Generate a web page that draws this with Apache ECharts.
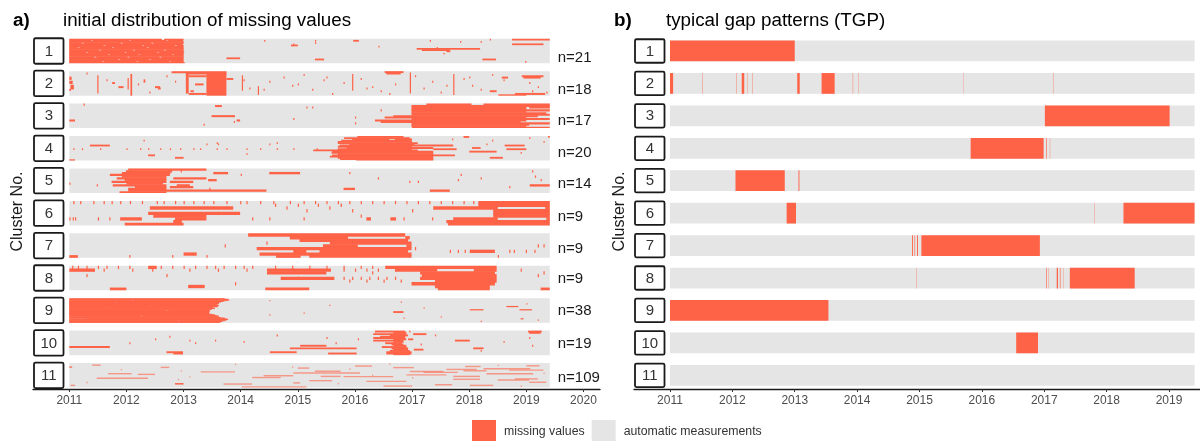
<!DOCTYPE html>
<html>
<head>
<meta charset="utf-8">
<script src="https://cdn.jsdelivr.net/npm/echarts@6/dist/echarts.min.js"></script>
<style>
  html, body { margin: 0; padding: 0; background: #ffffff; }
  #chart { width: 1200px; height: 441px; }
</style>
</head>
<body>
<div id="chart"></div>
<script>
// ---- data -------------------------------------------------------------
const clusters = [1, 2, 3, 4, 5, 6, 7, 8, 9, 10, 11];
const stationCounts = [21, 18, 17, 20, 14, 9, 9, 9, 38, 19, 109];
const yearTicksA = [2011, 2012, 2013, 2014, 2015, 2016, 2017, 2018, 2019, 2020];
const yearTicksB = [2011, 2012, 2013, 2014, 2015, 2016, 2017, 2018, 2019];
const recordStart = 2011.0;
const recordEnd = 2019.41;
const legendNames = ['missing values', 'automatic measurements'];

// gaps per cluster: [station row, gap start (decimal year), gap end, rows spanned (optional)]
const gaps1 = [
  [0, 2011.0, 2012.62], [0, 2012.66, 2013.0],
  [1, 2011.0, 2011.38], [1, 2011.41, 2012.05], [1, 2012.08, 2012.7], [1, 2012.73, 2012.99],
  [2, 2011.0, 2013.0],
  [3, 2011.0, 2011.22], [3, 2011.25, 2011.9], [3, 2011.93, 2012.44], [3, 2012.47, 2013.0],
  [4, 2011.0, 2012.98],
  [5, 2011.0, 2011.6], [5, 2011.63, 2012.28], [5, 2012.31, 2012.85], [5, 2012.88, 2013.0],
  [6, 2011.0, 2013.0],
  [7, 2011.0, 2011.15], [7, 2011.18, 2011.75], [7, 2011.78, 2012.36], [7, 2012.39, 2013.0],
  [8, 2011.0, 2013.0],
  [9, 2011.0, 2011.52], [9, 2011.55, 2012.12], [9, 2012.15, 2012.66], [9, 2012.69, 2013.0],
  [10, 2011.0, 2013.0],
  [11, 2011.0, 2011.3], [11, 2011.33, 2011.97], [11, 2012.0, 2012.54], [11, 2012.57, 2013.01],
  [12, 2011.0, 2013.0],
  [13, 2011.0, 2011.68], [13, 2011.71, 2012.21], [13, 2012.24, 2012.8], [13, 2012.83, 2013.0],
  [14, 2011.0, 2013.0],
  [15, 2011.0, 2011.44], [15, 2011.47, 2012.02], [15, 2012.05, 2012.58], [15, 2012.61, 2013.0],
  [16, 2011.0, 2013.0],
  [17, 2011.0, 2011.86], [17, 2011.89, 2012.4], [17, 2012.43, 2013.0],
  [18, 2011.0, 2013.0],
  [19, 2011.0, 2011.58], [19, 2011.61, 2012.18], [19, 2012.21, 2012.75], [19, 2012.78, 2013.0],
  [20, 2011.0, 2013.02],
  [0, 2018.75, 2019.41], [1, 2015.97, 2016.07], [1, 2014.41, 2014.43], [2, 2018.2, 2018.22],
  [4, 2018.75, 2019.3], [5, 2014.88, 2015.0], [8, 2017.08, 2018.19], [9, 2017.17, 2017.66],
  [10, 2017.6, 2017.67], [16, 2013.75, 2013.99], [17, 2015.3, 2015.46], [17, 2018.23, 2018.47],
  [19, 2018.98, 2019.0], [3, 2015.3, 2015.32], [6, 2016.41, 2016.43], [1, 2017.31, 2017.33],
  [2, 2017.84, 2017.86], [0, 2018.36, 2018.38], [4, 2014.92, 2014.94], [7, 2017.43, 2017.45],
  [12, 2017.55, 2017.57], [1, 2015.3, 2015.32]
];

const gaps2 = [
  [0, 2012.79, 2013.75], [1, 2013.04, 2013.75],
  [2, 2013.04, 2013.09, 14], [2, 2013.40, 2013.75, 16],
  [3, 2013.09, 2013.40], [16, 2013.09, 2013.40], [5, 2013.75, 2013.87],
  [0, 2016.52, 2016.85], [1, 2016.55, 2016.8],
  [2, 2012.07, 2012.1, 16], [5, 2012.02, 2012.04, 8], [3, 2011.49, 2011.505, 13],
  [4, 2011.0, 2011.04, 2], [7, 2011.0, 2011.06, 2], [10, 2011.02, 2011.08, 3], [13, 2011.0, 2011.03],
  [11, 2012.5, 2012.59], [11, 2011.86, 2011.95],
  [4, 2018.57, 2018.68], [3, 2018.92, 2019.3], [4, 2018.95, 2019.25], [16, 2018.8, 2019.33],
  [14, 2018.36, 2018.48], [17, 2018.51, 2019.0],
  [2, 2017.72, 2017.726, 15], [1, 2016.96, 2016.965, 15], [3, 2014.02, 2014.026, 11],
  [2, 2015.95, 2015.955, 12], [11, 2014.3, 2014.32, 6], [6, 2012.3, 2012.33, 2],
  [12, 2012.55, 2012.6], [8, 2011.75, 2011.8], [14, 2013.12, 2013.18], [9, 2013.2, 2013.35],
  [1, 2011.3, 2011.31], [6, 2011.65, 2011.66], [9, 2012.2, 2012.21], [15, 2012.4, 2012.41],
  [3, 2012.7, 2012.71], [12, 2014.15, 2014.16], [7, 2014.5, 2014.51], [4, 2014.75, 2014.76],
  [10, 2014.9, 2014.91], [2, 2015.1, 2015.11], [13, 2015.25, 2015.26], [6, 2015.45, 2015.46],
  [16, 2015.6, 2015.61], [8, 2015.8, 2015.81], [5, 2016.1, 2016.11], [11, 2016.3, 2016.31],
  [14, 2016.45, 2016.46], [9, 2016.7, 2016.71], [3, 2017.05, 2017.06], [12, 2017.2, 2017.21],
  [7, 2017.35, 2017.36], [15, 2017.5, 2017.51], [5, 2017.9, 2017.91], [10, 2018.05, 2018.06],
  [13, 2018.2, 2018.21], [2, 2018.4, 2018.41], [6, 2018.6, 2018.61], [8, 2019.05, 2019.06],
  [11, 2019.2, 2019.21], [15, 2019.35, 2019.36], [6, 2014.05, 2014.06], [13, 2014.4, 2014.41],
  [9, 2015.0, 2015.01], [4, 2015.5, 2015.51], [12, 2016.2, 2016.21], [16, 2016.6, 2016.61],
  [10, 2017.6, 2017.61], [4, 2018.0, 2018.01], [14, 2019.1, 2019.11], [7, 2012.85, 2012.86]
];

const gaps3 = [
  [0, 2017.25, 2018.04], [0, 2018.25, 2019.41],
  [1, 2016.99, 2019.41],
  [2, 2016.99, 2019.0], [2, 2019.05, 2019.41],
  [3, 2016.99, 2019.0],
  [4, 2016.99, 2019.41],
  [5, 2016.99, 2019.0],
  [6, 2016.99, 2019.35],
  [7, 2016.99, 2019.41],
  [8, 2016.67, 2019.2],
  [9, 2016.52, 2019.0],
  [10, 2016.99, 2019.41],
  [11, 2016.35, 2019.0],
  [12, 2016.45, 2018.9],
  [13, 2016.99, 2019.41],
  [14, 2016.99, 2019.05],
  [15, 2016.99, 2019.0],
  [16, 2017.0, 2019.41],
  [1, 2013.55, 2013.67], [8, 2013.49, 2013.9], [11, 2013.93, 2013.99], [11, 2011.0, 2011.1],
  [0, 2011.25, 2011.26], [2, 2015.15, 2015.17], [2, 2015.25, 2015.27], [9, 2016.0, 2016.01],
  [13, 2016.0, 2016.01], [14, 2013.35, 2013.36], [10, 2014.92, 2014.93], [4, 2016.45, 2016.46],
  [12, 2013.88, 2013.89]
];

const gaps4 = [
  [0, 2016.04, 2016.85], [0, 2017.9, 2018.0],
  [1, 2015.81, 2016.96],
  [2, 2015.95, 2016.6], [2, 2016.7, 2017.0],
  [3, 2015.76, 2016.99],
  [4, 2015.7, 2017.0],
  [5, 2015.7, 2017.1],
  [6, 2015.9, 2017.04],
  [7, 2015.73, 2017.72],
  [8, 2015.7, 2017.0],
  [9, 2015.85, 2017.37],
  [10, 2015.7, 2017.0], [10, 2017.37, 2017.78],
  [11, 2015.27, 2017.1],
  [12, 2015.6, 2017.37],
  [13, 2015.59, 2017.37],
  [14, 2015.7, 2017.37],
  [15, 2015.6, 2017.75],
  [16, 2015.56, 2017.37],
  [17, 2015.7, 2017.37],
  [18, 2015.74, 2017.37],
  [19, 2016.02, 2017.37],
  [7, 2011.36, 2011.71], [17, 2012.85, 2013.0], [19, 2011.0, 2011.1], [15, 2012.38, 2012.5],
  [12, 2018.0, 2018.48], [10, 2018.65, 2019.0], [7, 2018.62, 2018.97], [17, 2018.36, 2018.59],
  [9, 2018.05, 2018.2], [4, 2019.3, 2019.31], [3, 2018.4, 2018.42], [1, 2019.05, 2019.07],
  [0, 2019.38, 2019.41],
  [10, 2011.07, 2011.08], [10, 2011.22, 2011.23], [10, 2011.54, 2011.55], [10, 2012.0, 2012.01],
  [10, 2012.24, 2012.25], [10, 2012.38, 2012.39], [10, 2012.59, 2012.6], [10, 2012.76, 2012.77],
  [10, 2012.94, 2012.95], [10, 2013.17, 2013.18], [10, 2013.29, 2013.3], [10, 2013.58, 2013.59],
  [10, 2013.75, 2013.76], [10, 2014.1, 2014.11], [10, 2014.34, 2014.35], [10, 2014.63, 2014.64],
  [10, 2014.92, 2014.93], [10, 2015.33, 2015.34], [6, 2013.4, 2013.41], [6, 2013.6, 2013.61],
  [6, 2014.5, 2014.51], [5, 2014.63, 2014.64], [5, 2013.58, 2013.59], [3, 2012.3, 2012.31],
  [14, 2014.1, 2014.11], [2, 2017.7, 2017.71], [13, 2018.9, 2018.91], [6, 2018.3, 2018.31]
];

const gaps5 = [
  [0, 2012.03, 2013.4],
  [1, 2011.99, 2012.8],
  [2, 2011.92, 2012.77], [2, 2013.52, 2013.78], [2, 2014.5, 2015.04],
  [3, 2011.71, 2012.76],
  [4, 2011.92, 2012.7],
  [5, 2011.83, 2012.7], [5, 2012.82, 2013.4],
  [6, 2011.97, 2012.7], [6, 2013.43, 2013.58],
  [7, 2011.74, 2012.7], [7, 2012.76, 2013.17],
  [8, 2012.0, 2012.64],
  [9, 2011.76, 2012.7], [9, 2012.88, 2013.11], [9, 2019.06, 2019.41],
  [10, 2012.15, 2012.7], [10, 2012.76, 2013.17],
  [11, 2012.03, 2012.7], [11, 2015.8, 2016.0],
  [12, 2012.03, 2014.45], [12, 2017.31, 2017.66],
  [13, 2011.88, 2012.7],
  [8, 2011.0, 2011.02], [9, 2011.48, 2011.5], [1, 2019.1, 2019.12], [5, 2018.2, 2018.22],
  [6, 2017.8, 2017.81], [2, 2015.9, 2015.91], [7, 2016.95, 2016.96], [3, 2017.85, 2017.86],
  [4, 2019.15, 2019.17], [10, 2018.7, 2018.71], [6, 2019.25, 2019.27], [11, 2013.45, 2013.47],
  [3, 2014.0, 2014.01], [1, 2012.95, 2012.97], [7, 2017.1, 2017.11], [5, 2016.4, 2016.41]
];

const gaps6 = [
  [0, 2018.16, 2019.41],
  [1, 2018.16, 2019.41],
  [2, 2012.41, 2013.87], [2, 2017.37, 2018.5], [2, 2019.33, 2019.41],
  [3, 2018.42, 2019.41],
  [4, 2012.38, 2013.99], [4, 2018.42, 2019.41],
  [5, 2012.47, 2013.4], [5, 2018.42, 2019.41],
  [6, 2011.89, 2012.27], [6, 2012.85, 2013.4], [6, 2017.72, 2018.5], [6, 2019.35, 2019.41],
  [7, 2012.82, 2012.97], [7, 2017.6, 2019.41],
  [8, 2011.97, 2013.0], [8, 2017.63, 2019.41],
  [0, 2011.07, 2011.08], [0, 2011.19, 2011.2], [0, 2011.42, 2011.43], [0, 2011.6, 2011.61],
  [0, 2011.74, 2011.75], [0, 2011.89, 2011.9], [0, 2012.06, 2012.07], [0, 2012.27, 2012.28],
  [0, 2012.53, 2012.54], [0, 2012.65, 2012.66], [0, 2012.85, 2012.86], [0, 2013.0, 2013.01],
  [0, 2013.17, 2013.18], [0, 2013.35, 2013.36], [0, 2013.52, 2013.53], [0, 2013.75, 2013.76],
  [0, 2013.99, 2014.0], [0, 2014.1, 2014.11], [0, 2014.34, 2014.35], [0, 2014.57, 2014.58],
  [0, 2014.86, 2014.87], [0, 2015.1, 2015.11], [0, 2015.3, 2015.31], [0, 2015.5, 2015.51],
  [0, 2015.7, 2015.71], [0, 2015.9, 2015.91], [0, 2016.1, 2016.11], [0, 2016.3, 2016.31],
  [0, 2016.5, 2016.51], [0, 2016.7, 2016.71], [0, 2016.9, 2016.91], [0, 2017.1, 2017.11],
  [0, 2017.3, 2017.31], [0, 2017.5, 2017.51], [0, 2017.7, 2017.71], [0, 2017.9, 2017.91],
  [0, 2018.07, 2018.08],
  [1, 2014.6, 2014.61], [2, 2014.8, 2014.81], [1, 2015.0, 2015.01], [3, 2015.15, 2015.16],
  [1, 2015.35, 2015.36], [2, 2015.55, 2015.56], [1, 2015.75, 2015.76], [3, 2015.95, 2015.96],
  [6, 2011.0, 2011.02], [6, 2011.06, 2011.08], [6, 2011.1, 2011.12], [6, 2011.5, 2011.52],
  [6, 2011.7, 2011.72], [6, 2014.2, 2014.22], [6, 2014.5, 2014.52], [6, 2015.1, 2015.12],
  [6, 2016.2, 2016.28], [6, 2016.62, 2016.72], [6, 2016.85, 2016.87], [6, 2017.35, 2017.37],
  [4, 2013.6, 2013.62], [5, 2016.1, 2016.11], [3, 2017.0, 2017.01]
];

const gaps7 = [
  [0, 2014.13, 2016.88],
  [1, 2014.86, 2015.88], [1, 2016.88, 2016.96],
  [2, 2015.03, 2016.93],
  [3, 2015.56, 2016.99],
  [4, 2015.44, 2016.05], [4, 2016.9, 2016.99],
  [5, 2014.28, 2016.99],
  [6, 2014.92, 2015.15], [6, 2015.38, 2016.93],
  [7, 2014.33, 2016.99],
  [8, 2014.62, 2015.05], [8, 2015.2, 2016.99],
  [6, 2018.01, 2018.45], [7, 2013.0, 2013.23], [8, 2011.0, 2011.15], [4, 2013.72, 2013.73],
  [4, 2019.2, 2019.21], [5, 2015.1, 2015.11], [6, 2017.66, 2017.67], [6, 2017.8, 2017.81],
  [6, 2017.92, 2017.93], [6, 2018.7, 2018.71], [6, 2018.78, 2018.79], [6, 2018.99, 2019.0],
  [6, 2019.14, 2019.15], [8, 2012.05, 2012.06], [8, 2012.8, 2012.82], [3, 2014.45, 2014.46],
  [5, 2017.05, 2017.06], [4, 2019.3, 2019.31], [8, 2013.4, 2013.42], [8, 2018.5, 2018.51]
];

const gaps8 = [
  [0, 2016.53, 2018.48],
  [1, 2016.7, 2017.44], [1, 2018.08, 2018.48],
  [2, 2017.14, 2018.45],
  [3, 2017.17, 2018.48],
  [4, 2017.14, 2018.48],
  [5, 2017.4, 2018.48],
  [6, 2016.99, 2018.45],
  [7, 2017.4, 2018.36],
  [8, 2017.45, 2018.36],
  [1, 2014.46, 2015.58], [2, 2014.46, 2015.5], [4, 2014.7, 2015.64], [8, 2014.43, 2015.2],
  [1, 2011.0, 2011.45], [8, 2011.71, 2012.0], [7, 2013.08, 2013.37], [0, 2012.38, 2012.53],
  [8, 2019.25, 2019.41], [3, 2019.2, 2019.22],
  [0, 2011.05, 2011.06], [0, 2011.15, 2011.16], [0, 2011.3, 2011.31], [0, 2011.5, 2011.51],
  [0, 2011.65, 2011.66], [0, 2011.85, 2011.86], [0, 2012.05, 2012.06], [0, 2012.6, 2012.61],
  [0, 2012.8, 2012.81], [0, 2013.0, 2013.01], [0, 2013.2, 2013.21], [0, 2013.4, 2013.41],
  [0, 2013.55, 2013.56], [0, 2013.7, 2013.71], [0, 2013.9, 2013.91], [0, 2014.05, 2014.06],
  [0, 2014.2, 2014.21], [0, 2014.6, 2014.61], [0, 2014.9, 2014.91], [0, 2015.2, 2015.21],
  [0, 2015.5, 2015.51], [0, 2015.8, 2015.81], [0, 2016.1, 2016.11], [0, 2016.3, 2016.31],
  [1, 2011.6, 2011.61], [1, 2012.1, 2012.11], [1, 2012.45, 2012.46], [1, 2013.1, 2013.11],
  [1, 2013.6, 2013.61], [1, 2014.1, 2014.11], [1, 2015.8, 2015.81], [1, 2016.0, 2016.01],
  [1, 2016.2, 2016.21], [1, 2016.4, 2016.41],
  [4, 2015.0, 2015.01], [4, 2015.8, 2015.81], [4, 2015.95, 2015.96], [4, 2016.1, 2016.11],
  [4, 2016.25, 2016.26], [4, 2016.4, 2016.41], [4, 2016.55, 2016.56], [4, 2016.7, 2016.71],
  [5, 2015.9, 2015.91], [5, 2016.2, 2016.21], [5, 2016.5, 2016.51], [5, 2016.8, 2016.81],
  [3, 2011.3, 2011.31], [3, 2012.7, 2012.71], [6, 2013.9, 2013.91], [2, 2016.3, 2016.31],
  [1, 2018.9, 2018.91], [2, 2019.3, 2019.31]
];

const gaps9 = [
  [0, 2011.0, 2013.72], [1, 2011.0, 2013.78], [2, 2011.0, 2012.1], [2, 2012.13, 2013.8],
  [3, 2011.0, 2013.75], [4, 2011.0, 2013.7], [5, 2011.0, 2013.65], [6, 2011.0, 2011.8],
  [6, 2011.83, 2013.62], [7, 2011.0, 2013.62], [8, 2011.0, 2013.6], [9, 2011.0, 2013.58],
  [10, 2011.0, 2012.4], [10, 2012.43, 2013.62], [11, 2011.0, 2013.55], [12, 2011.0, 2013.6],
  [13, 2011.0, 2013.52], [14, 2011.0, 2011.6], [14, 2011.63, 2013.5], [15, 2011.0, 2013.55],
  [16, 2011.0, 2013.5], [17, 2011.0, 2013.47], [18, 2011.0, 2012.7], [18, 2012.73, 2013.45],
  [19, 2011.0, 2013.44], [20, 2011.0, 2013.46], [21, 2011.0, 2013.45], [22, 2011.0, 2011.95],
  [22, 2011.98, 2013.43], [23, 2011.0, 2013.45], [24, 2011.0, 2013.5], [25, 2011.0, 2013.55],
  [26, 2011.0, 2012.25], [26, 2012.28, 2013.58], [27, 2011.0, 2013.62], [28, 2011.0, 2013.6],
  [29, 2011.0, 2013.65], [30, 2011.0, 2013.72], [31, 2011.3, 2013.75], [32, 2011.0, 2013.78],
  [33, 2011.0, 2012.9], [33, 2012.93, 2013.75], [34, 2011.0, 2013.72], [35, 2011.0, 2013.68],
  [36, 2011.0, 2013.65], [37, 2011.0, 2013.62],
  [20, 2016.67, 2016.85, 2], [17, 2018.01, 2018.25], [12, 2018.65, 2018.86], [17, 2018.88, 2019.1],
  [3, 2014.5, 2014.52], [10, 2015.55, 2015.57], [25, 2014.5, 2014.52], [30, 2016.85, 2016.87],
  [33, 2019.2, 2019.22], [35, 2018.2, 2018.22], [5, 2016.8, 2016.82], [14, 2017.2, 2017.22],
  [28, 2017.5, 2017.52], [8, 2019.0, 2019.02], [22, 2015.1, 2015.12], [31, 2018.9, 2018.95]
];

const gaps10 = [
  [0, 2016.35, 2016.88], [0, 2019.03, 2019.27],
  [1, 2016.67, 2016.9], [1, 2019.05, 2019.25],
  [2, 2016.32, 2016.9], [2, 2017.02, 2017.25],
  [3, 2016.61, 2016.93],
  [4, 2016.44, 2016.88],
  [5, 2016.32, 2016.88],
  [6, 2016.67, 2016.9], [6, 2016.93, 2017.02],
  [7, 2016.32, 2016.85], [7, 2017.75, 2018.01],
  [8, 2016.67, 2016.85],
  [9, 2016.53, 2016.82],
  [10, 2016.64, 2016.85],
  [11, 2016.67, 2016.9], [11, 2015.04, 2015.5],
  [12, 2016.47, 2016.9], [12, 2011.0, 2011.71],
  [13, 2016.64, 2016.93], [13, 2014.86, 2016.03], [13, 2018.07, 2018.25],
  [14, 2016.67, 2016.93], [14, 2017.03, 2017.2],
  [15, 2016.61, 2016.96],
  [16, 2016.55, 2016.99], [16, 2012.7, 2012.99], [16, 2014.51, 2014.98],
  [17, 2016.55, 2016.99], [17, 2012.82, 2012.99], [17, 2015.53, 2016.03],
  [18, 2016.67, 2016.96],
  [5, 2019.05, 2019.07], [6, 2012.5, 2012.52], [7, 2013.1, 2013.12], [9, 2013.2, 2013.22],
  [7, 2013.55, 2013.57], [8, 2014.05, 2014.07], [3, 2014.63, 2014.65], [5, 2015.5, 2015.52],
  [9, 2015.66, 2015.68], [6, 2016.05, 2016.07], [0, 2016.95, 2016.97], [10, 2017.15, 2017.17],
  [9, 2012.05, 2012.07], [4, 2012.75, 2012.77], [11, 2019.1, 2019.12], [15, 2018.2, 2018.22],
  [3, 2017.4, 2017.42], [8, 2018.6, 2018.62]
];

const gaps11 = [
  [66, 2011.48, 2012.38], [46, 2011.68, 2012.09], [89, 2012.85, 2013.0, 4], [98, 2011.02, 2011.1],
  [105, 2014.02, 2015.15, 2], [87, 2014.92, 2015.04], [58, 2015.4, 2015.75], [55, 2014.4, 2014.92],
  [35, 2015.3, 2015.75], [43, 2014.92, 2016.09], [59, 2015.8, 2016.67], [19, 2016.67, 2017.03],
  [36, 2016.96, 2017.55], [27, 2017.6, 2018.13], [14, 2017.93, 2018.2], [24, 2018.25, 2019.07],
  [58, 2017.72, 2018.19], [71, 2017.72, 2018.19], [46, 2018.3, 2019.12], [11, 2019.0, 2019.23],
  [98, 2018.01, 2018.42], [74, 2018.5, 2019.05], [30, 2018.7, 2019.3], [40, 2017.2, 2017.8],
  [80, 2016.2, 2016.9], [51, 2016.9, 2017.6], [63, 2014.2, 2014.7], [38, 2013.3, 2013.9],
  [8, 2011.4, 2011.55], [18, 2012.6, 2012.75], [92, 2013.7, 2014.2], [101, 2016.5, 2017.0],
  [21, 2015.0, 2015.2], [69, 2018.8, 2019.2], [84, 2019.05, 2019.35], [33, 2017.9, 2018.3],
  [77, 2015.2, 2015.6], [95, 2017.4, 2017.7], [12, 2016.0, 2016.3], [49, 2012.2, 2012.5],
  [5, 2013.9, 2013.92], [16, 2014.9, 2014.92], [25, 2015.9, 2015.92], [3, 2016.6, 2016.62],
  [60, 2013.1, 2013.12], [72, 2012.9, 2012.92], [85, 2011.3, 2011.32], [28, 2011.9, 2011.92],
  [9, 2018.5, 2018.52], [44, 2019.3, 2019.32], [64, 2017.0, 2017.02], [90, 2015.7, 2015.72],
  [102, 2018.9, 2018.92], [54, 2016.3, 2016.32], [34, 2012.95, 2012.97], [15, 2011.0, 2011.05, 3]
];

// typical gap pattern of each cluster: [cluster, gap start, gap end]
const tgpGaps = [
  [1, 2011.0, 2013.0],
  [2, 2011.0, 2011.05], [2, 2011.52, 2011.526], [2, 2012.06, 2012.066], [2, 2012.15, 2012.19],
  [2, 2012.24, 2012.245], [2, 2012.32, 2012.326], [2, 2013.04, 2013.08], [2, 2013.43, 2013.64],
  [2, 2013.93, 2013.936], [2, 2014.02, 2014.025], [2, 2015.7, 2015.704], [2, 2017.14, 2017.145],
  [3, 2017.01, 2019.01],
  [4, 2015.82, 2016.99], [4, 2017.03, 2017.04], [4, 2017.09, 2017.095],
  [5, 2012.05, 2012.84], [5, 2013.06, 2013.075],
  [6, 2012.87, 2013.02], [6, 2017.8, 2017.805], [6, 2018.27, 2019.41],
  [7, 2014.88, 2014.895], [7, 2014.92, 2014.93], [7, 2014.96, 2014.975], [7, 2015.03, 2016.93],
  [8, 2014.95, 2014.955], [8, 2017.03, 2017.04], [8, 2017.07, 2017.075], [8, 2017.2, 2017.22],
  [8, 2017.25, 2017.26], [8, 2017.3, 2017.305], [8, 2017.41, 2018.45],
  [9, 2011.0, 2013.54],
  [10, 2016.55, 2016.9]
];

// ---- drawing ----------------------------------------------------------
const FONT = "'Liberation Sans', Arial, Helvetica, sans-serif";
const RED = '#FF6347';
const GREY = '#E5E5E5';
const INK = '#1a1a1a';
const BAND_A = 0.378;   // half height of a cluster band, panel a (in cluster units)
const BAND_B = 0.32;    // half height of a cluster band, panel b
// vertical nudge (px) of each "n=" label below its band centre
const countLabelShift = [7, 6, 5, 4.2, 3.4, 4, 3, 0.5, 0.5, 1, 3];

const gapLists = [gaps1, gaps2, gaps3, gaps4, gaps5, gaps6, gaps7, gaps8, gaps9, gaps10, gaps11];
const gapDataA = [];
gapLists.forEach(function (list, i) {
  list.forEach(function (g) {
    gapDataA.push([i + 1, g[0], g[1], g[2], g[3] || 1]);
  });
});
const recordData = clusters.map(function (c) { return [c, recordStart, recordEnd]; });
const labelData = clusters.map(function (c, i) { return [c, stationCounts[i]]; });

function bandRect(api, c, t0, t1, half) {
  const p0 = api.coord([t0, c - half]);
  const p1 = api.coord([t1, c + half]);
  return { x: p0[0], y: p0[1], width: p1[0] - p0[0], height: p1[1] - p0[1] };
}

function renderRecordA(params, api) {
  return { type: 'rect', shape: bandRect(api, api.value(0), api.value(1), api.value(2), BAND_A),
           style: { fill: GREY } };
}
function renderRecordB(params, api) {
  return { type: 'rect', shape: bandRect(api, api.value(0), api.value(1), api.value(2), BAND_B),
           style: { fill: GREY } };
}

// one station row; rows overlap slightly so stacked rows fuse without seams,
// rows far thinner than a pixel become faint hairlines
function renderGapA(params, api) {
  const c = api.value(0), row = api.value(1), t0 = api.value(2), t1 = api.value(3), span = api.value(4);
  const n = stationCounts[c - 1];
  const rowH = 2 * BAND_A / n;
  const top = c - BAND_A;
  const p0 = api.coord([t0, top + row * rowH]);
  const p1 = api.coord([t1, top + (row + span) * rowH]);
  const bottom = api.coord([t0, c + BAND_A])[1];
  const exact = p1[1] - p0[1];
  let y = p0[1], h, alpha = 1;
  if (exact >= 0.5) {
    h = Math.min(exact + 0.6, bottom - y);
  } else {
    h = 1.4; alpha = 0.6; y = Math.min(p0[1] - 0.4, bottom - h);
  }
  const w = Math.max(p1[0] - p0[0], 1.2);
  return { type: 'rect', shape: { x: p0[0], y: y, width: w, height: h },
           style: { fill: RED, opacity: alpha } };
}

function renderGapB(params, api) {
  return { type: 'rect', shape: bandRect(api, api.value(0), api.value(1), api.value(2), BAND_B),
           style: { fill: RED } };
}

function boxGroup(params, api, boxH, withCount) {
  const c = api.value(0);
  const cy = api.coord([recordStart, c])[1];
  const left = params.coordSys.x + 1;
  const children = [
    { type: 'rect', shape: { x: left, y: cy - boxH / 2, width: 29.5, height: boxH, r: 1.5 },
      style: { fill: '#ffffff', stroke: INK, lineWidth: 1.8 } },
    { type: 'text', style: { x: left + 14.8, y: cy + 0.5, text: String(c), fill: '#333333',
      font: '15px ' + FONT, align: 'center', verticalAlign: 'middle' } }
  ];
  if (withCount) {
    const ex = api.coord([recordEnd, c])[0];
    children.push({ type: 'text', style: { x: ex + 8, y: cy + countLabelShift[c - 1],
      text: 'n=' + api.value(1), fill: INK, font: '15px ' + FONT, align: 'left', verticalAlign: 'middle' } });
  }
  return { type: 'group', children: children };
}

function xAxisCfg(gridIndex, min, max, ticks) {
  return {
    gridIndex: gridIndex, type: 'value', min: min, max: max,
    axisLine: { show: true, lineStyle: { color: INK, width: 1.4 } },
    axisTick: { show: true, length: 3, customValues: ticks, lineStyle: { color: '#333333' } },
    axisLabel: { customValues: ticks, color: '#4d4d4d', fontSize: 12, margin: 6, fontFamily: FONT,
                 formatter: function (v) { return String(Math.round(v)); } },
    splitLine: { show: false }
  };
}
function yAxisCfg(gridIndex, gap) {
  return {
    gridIndex: gridIndex, type: 'value', inverse: true, min: 0.476, max: 11.422,
    name: 'Cluster No.', nameLocation: 'middle', nameGap: gap, nameRotate: 90,
    nameTextStyle: { fontSize: 16, color: INK, fontFamily: FONT },
    axisLine: { show: false }, axisTick: { show: false }, axisLabel: { show: false },
    splitLine: { show: false }
  };
}

const chart = echarts.init(document.getElementById('chart'), null, { renderer: 'canvas' });
chart.setOption({
  animation: false,
  backgroundColor: '#ffffff',
  textStyle: { fontFamily: FONT },
  grid: [
    { left: 33, width: 567, top: 34, height: 355 },
    { left: 634, width: 566, top: 34, height: 355 }
  ],
  xAxis: [
    xAxisCfg(0, 2010.3646, 2020.2893, yearTicksA),
    xAxisCfg(1, 2010.4229, 2019.4970, yearTicksB)
  ],
  yAxis: [yAxisCfg(0, 7), yAxisCfg(1, 6)],
  legend: {
    data: legendNames, left: 472, top: 420, padding: 0, itemWidth: 24, itemHeight: 24, itemGap: 7,
    icon: 'rect',
    textStyle: { fontSize: 12.3, color: '#333333', fontFamily: FONT, padding: [0, 0, 0, 3] }
  },
  graphic: [
    { type: 'text', left: 13, top: 11, style: { text: 'a)', font: 'bold 18.8px ' + FONT, fill: '#000' } },
    { type: 'text', left: 63, top: 11, style: { text: 'initial distribution of missing values', font: '18.8px ' + FONT, fill: '#000' } },
    { type: 'text', left: 614, top: 11, style: { text: 'b)', font: 'bold 18.8px ' + FONT, fill: '#000' } },
    { type: 'text', left: 666, top: 11, style: { text: 'typical gap patterns (TGP)', font: '18.8px ' + FONT, fill: '#000' } }
  ],
  series: [
    { type: 'custom', name: 'automatic measurements', xAxisIndex: 0, yAxisIndex: 0, z: 1,
      itemStyle: { color: GREY }, renderItem: renderRecordA, data: recordData },
    { type: 'custom', name: 'missing values', xAxisIndex: 0, yAxisIndex: 0, z: 2,
      itemStyle: { color: RED }, renderItem: renderGapA, data: gapDataA },
    { type: 'custom', name: 'clusterLabelsA', xAxisIndex: 0, yAxisIndex: 0, z: 3,
      renderItem: function (p, api) { return boxGroup(p, api, 25.5, true); }, data: labelData },
    { type: 'custom', name: 'automatic measurements', xAxisIndex: 1, yAxisIndex: 1, z: 1,
      itemStyle: { color: GREY }, renderItem: renderRecordB, data: recordData },
    { type: 'custom', name: 'missing values', xAxisIndex: 1, yAxisIndex: 1, z: 2,
      itemStyle: { color: RED }, renderItem: renderGapB, data: tgpGaps },
    { type: 'custom', name: 'clusterLabelsB', xAxisIndex: 1, yAxisIndex: 1, z: 3,
      renderItem: function (p, api) { return boxGroup(p, api, 23.5, false); }, data: labelData }
  ]
});
</script>
</body>
</html>
